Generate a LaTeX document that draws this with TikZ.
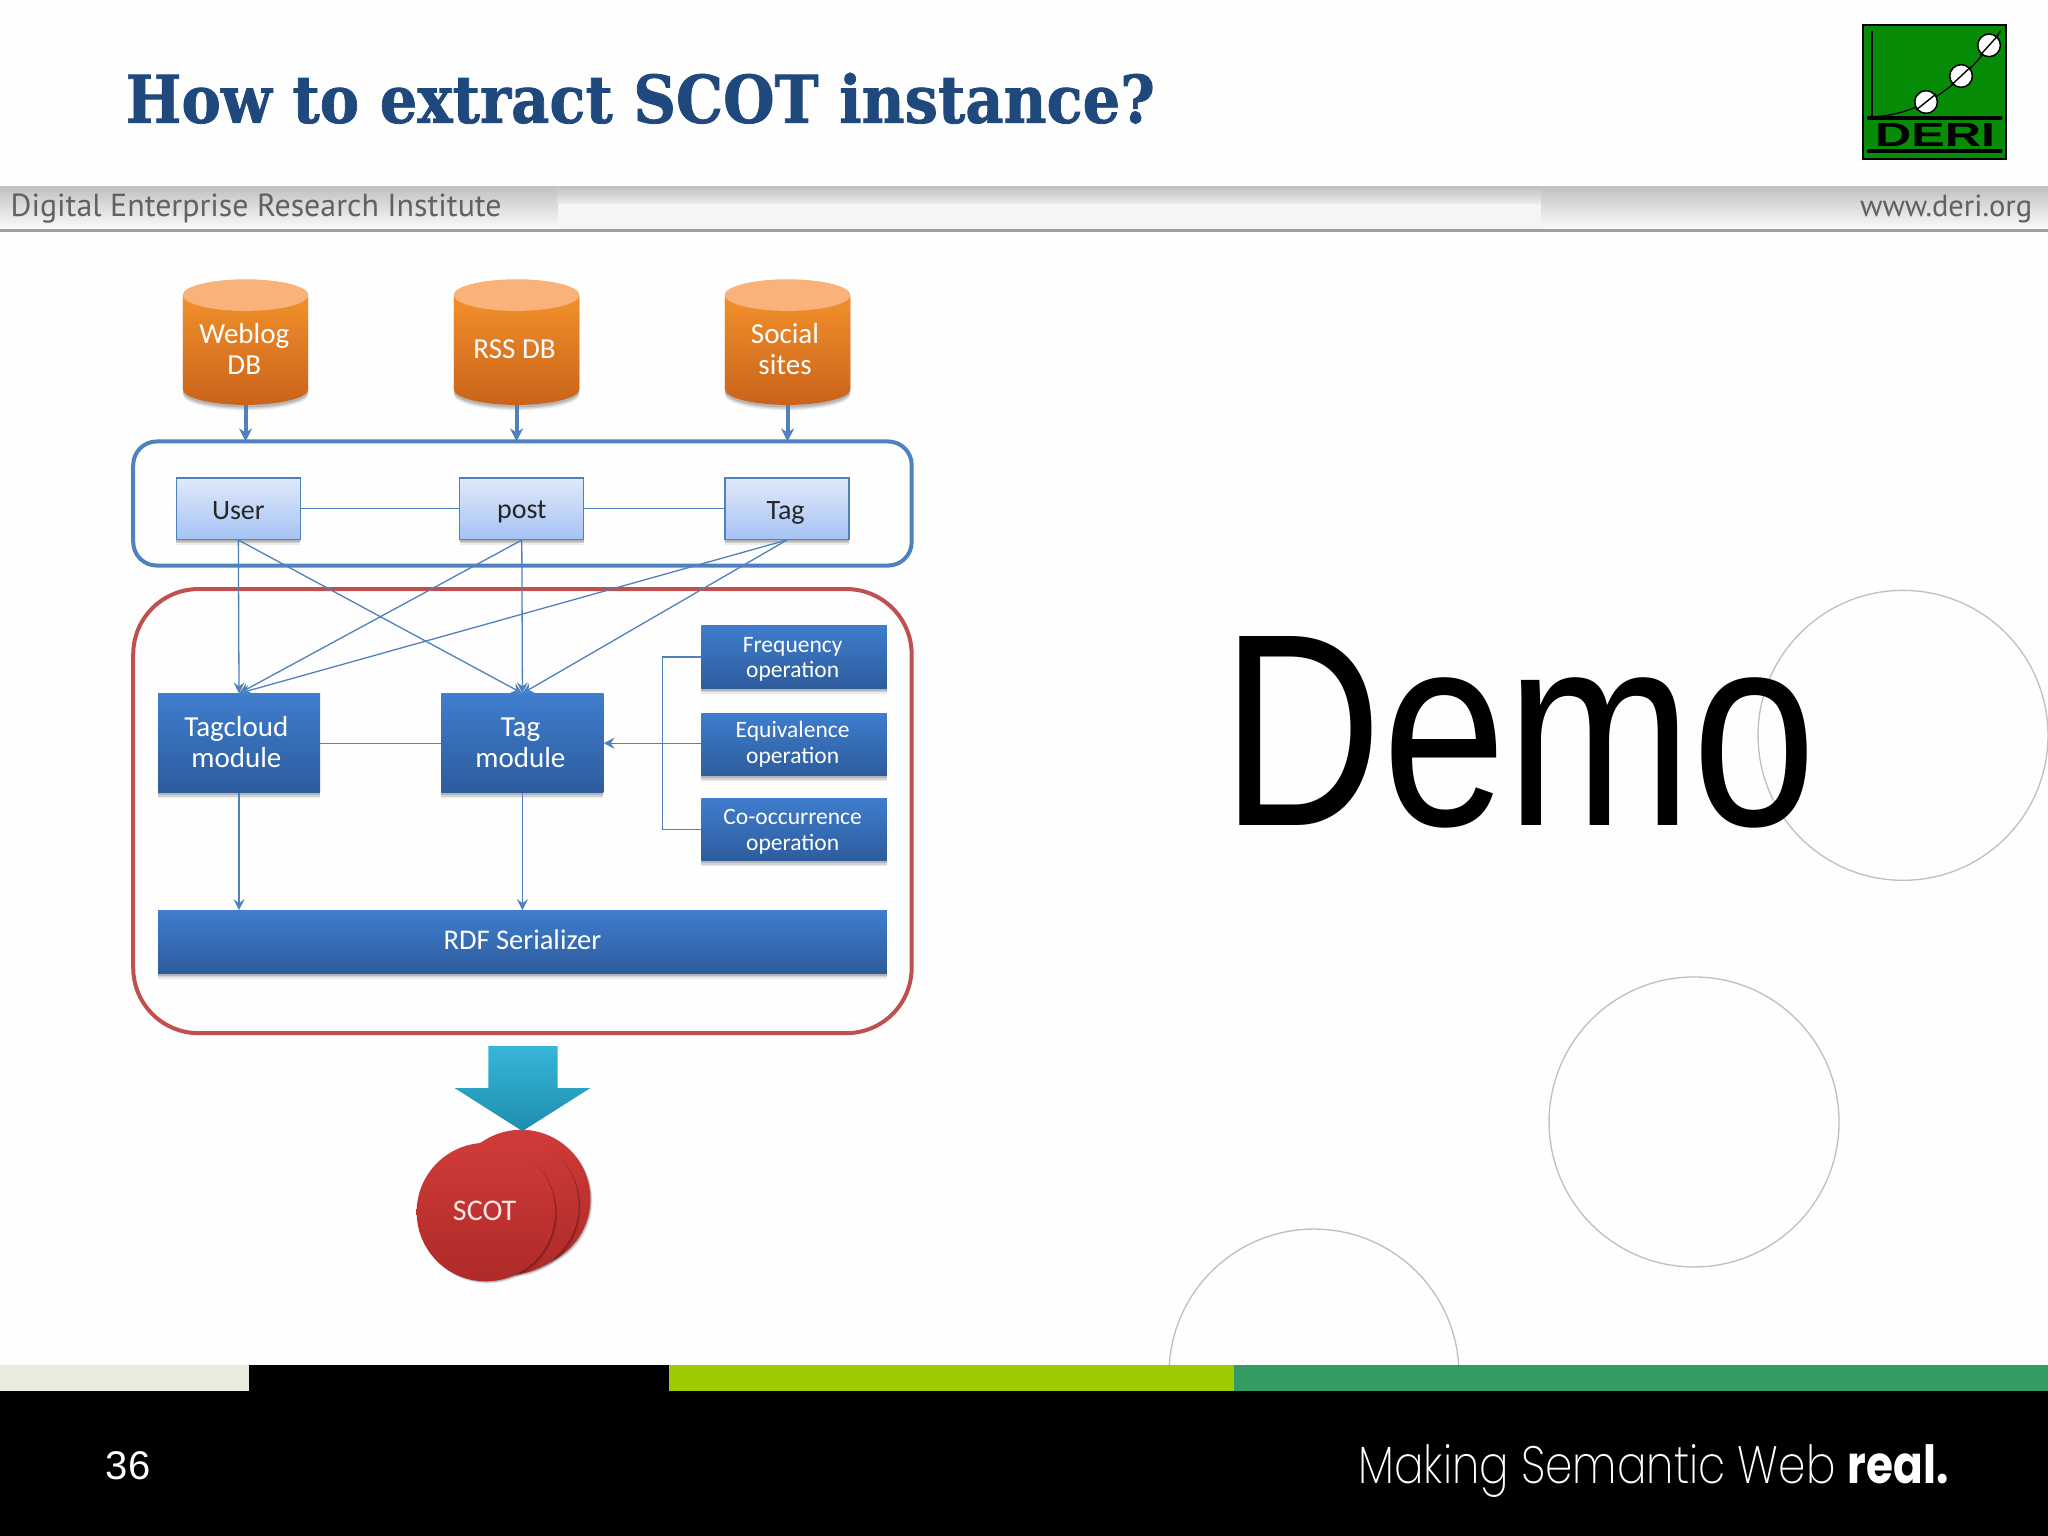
\documentclass[tikz,border=0pt]{standalone}
\usepackage{fontspec}
\usepackage{graphicx}
\usetikzlibrary{arrows.meta,shadows,calc}
\setmainfont{Carlito}
\newfontfamily\arialf{Liberation Sans}
\newfontfamily\titlef{DejaVu Serif}[BoldFont={DejaVu Serif Bold},BoldFeatures={FakeBold=1.2}]
\newfontfamily\headf{PT Sans}
\newfontfamily\tagf{Poppins ExtraLight}
\newfontfamily\tagbf{Poppins}[BoldFont={Poppins Bold}]
\def\uu{1.30612pt}
\newcommand{\fsz}[1]{\fontsize{#1}{1.08\dimexpr#1pt\relax}\selectfont}
% label shifted by dx, dy from the centre of its node, without changing the node's size
\newcommand{\lbl}[3]{\raisebox{#2}[\height][\depth]{\hspace*{#1}\begin{tabular}{@{}c@{}}#3\end{tabular}\hspace*{-#1}}}
\definecolor{linkblue}{HTML}{4F81BD}
\definecolor{framered}{HTML}{C0504D}
\definecolor{titleblue}{HTML}{1F497D}
\definecolor{lighttop}{HTML}{E0E9FA}\definecolor{lightbot}{HTML}{A5C3F4}
\definecolor{darktop}{HTML}{3F7DCE}\definecolor{darkbot}{HTML}{2D5C9C}
\definecolor{redtop}{HTML}{CF3B38}\definecolor{redbot}{HTML}{AE2A28}
\definecolor{orangetop}{HTML}{F8962E}\definecolor{orangebot}{HTML}{C9631A}\definecolor{orangelid}{HTML}{F9B27A}
\tikzset{
  softshadow/.style={
    drop shadow={shadow xshift=0pt,shadow yshift=-5.5pt,opacity=.07,fill=black},
    drop shadow={shadow xshift=0pt,shadow yshift=-4pt,opacity=.1,fill=black},
    drop shadow={shadow xshift=0pt,shadow yshift=-2.5pt,opacity=.14,fill=black}},
  lightbox/.style={rectangle,draw=linkblue,line width=1.2pt,top color=lighttop,bottom color=lightbot,softshadow,
     minimum width=95*\uu,minimum height=47*\uu,inner sep=0pt,text=black!85,font=\fsz{28}},
  darkbox/.style={rectangle,top color=darktop,bottom color=darkbot,softshadow,inner sep=0pt,text=white},
  modbox/.style={darkbox,minimum width=124*\uu,minimum height=76*\uu,font=\fsz{29}},
  opbox/.style={darkbox,minimum width=142*\uu,minimum height=48*\uu,font=\fsz{23.5}},
  dbnode/.style={rectangle,minimum width=96*\uu,minimum height=96*\uu,inner sep=0pt,text=white,font=\fsz{29}},
  link/.style={draw=linkblue,line width=1.3pt},
  flow/.style={link,-{Stealth[length=11pt,width=11pt,inset=4pt]}},
  feed/.style={draw=linkblue,line width=4pt,-{Stealth[length=13pt,width=13pt,inset=4pt]}},
  framebox/.style={fill=none,line width=4pt},
  deco/.style={draw=black!25,line width=1.3pt},
  disc/.style={circle,minimum size=106*\uu,inner sep=0pt,top color=redtop,bottom color=redbot,
     drop shadow={shadow xshift=2pt,shadow yshift=-2pt,opacity=.12,fill=black},
     drop shadow={shadow xshift=1pt,shadow yshift=-1pt,opacity=.2,fill=black}},
}
\newcommand{\dbcyl}[3]{%
  \shade[top color=orangetop,bottom color=orangebot,softshadow]
    (#2-48,226) -- (#2-48,298) .. controls (#2-48,304.6) and (#2-26.5,310) .. (#2,310)
    .. controls (#2+26.5,310) and (#2+48,304.6) .. (#2+48,298) -- (#2+48,226)
    .. controls (#2+48,219.4) and (#2+26.5,214) .. (#2,214)
    .. controls (#2-26.5,214) and (#2-48,219.4) .. (#2-48,226) -- cycle;
  \fill[orangelid] (#2,226) ellipse [x radius=48*\uu,y radius=12*\uu];
  \node[dbnode] (#1) at (#2,262) {#3};
}
\begin{document}
\begin{tikzpicture}[x=\uu,y=-\uu]
\useasboundingbox (0,0) rectangle (1568,1176);
\fill[white!99.5!black] (0,0) rectangle (1568,1176);

% decorative circles
\draw[deco] (1457,563) circle [radius=111*\uu];
\draw[deco] (1297,859) circle [radius=111*\uu];
\draw[deco] (1006,1052) circle [radius=111*\uu];

% header band
\shade[top color=black!24,bottom color=black!2] (0,143) rectangle (427,175);
\shade[top color=black!24,bottom color=black!2] (1180,143) rectangle (1568,175);
\shade[top color=black!24,bottom color=black!8] (427,143) rectangle (1180,156);
\fill[black!4] (427,156) rectangle (1180,175);
\fill[black!38] (0,175.5) rectangle (1568,178);
\node[anchor=base west,inner sep=0pt,text=black!62] (hdleft) at (8,166)
  {\resizebox{491pt}{!}{\headf\fsz{31}Digital Enterprise Research Institute}};
\node[anchor=base east,inner sep=0pt,text=black!62] (hdright) at (1556,166)
  {\resizebox{172pt}{!}{\headf\fsz{31}www.deri.org}};

% title
\node[anchor=base west,inner sep=0pt,text=titleblue] (title) at (96,94)
  {\resizebox{1029pt}{50pt}{\titlef\bfseries How to extract SCOT instance?}};

% logo
\begin{scope}[shift={(1362.86,0)},x=0.33333pt,y=-0.33333pt]
  \definecolor{logogreen}{HTML}{078C07}
  \fill[logogreen] (248,76) rectangle (678,476);
  \draw[black,line width=2pt] (248,76) rectangle (678,476);
  \draw[black,line width=1.3pt] (276,92) -- (276,350);
  \draw[black,line width=4pt,line cap=round] (266,354) -- (662,354);
  \draw[black,line width=4pt,line cap=round] (266,454) -- (662,454);
  \draw[black,line width=1.3pt] (280,350) .. controls (410,345) and (540,270) .. (662,92);
  \node[circle,draw=black,fill=white,line width=1.5pt,minimum size=68*0.33333pt,inner sep=0pt] (ball1) at (438,306) {};
  \node[circle,draw=black,fill=white,line width=1.5pt,minimum size=68*0.33333pt,inner sep=0pt] (ball2) at (543,228) {};
  \node[circle,draw=black,fill=white,line width=1.5pt,minimum size=68*0.33333pt,inner sep=0pt] (ball3) at (627,136) {};
  \draw[black,line width=1.4pt] (408,330) -- (468,282);
  \draw[black,line width=1.4pt] (513,256) -- (573,200);
  \draw[black,line width=1.4pt] (600,166) -- (655,105);
  \node[anchor=center,inner sep=0pt,text=black] (deri) at (465,406)
    {\resizebox{120pt}{23pt}{\arialf\bfseries DERI}};
\end{scope}

% frames
\draw[framebox,draw=framered,rounded corners=50*\uu] (102,451) rectangle (698,791);
\draw[framebox,draw=linkblue,rounded corners=18*\uu] (102,338) rectangle (698,433);

% databases
\dbcyl{weblog}{188}{\lbl{-1.3pt}{-10.4pt}{Weblog\\DB}}
\dbcyl{rssdb}{395.5}{\lbl{-2pt}{-10.4pt}{RSS DB}}
\dbcyl{social}{603}{\lbl{-2.6pt}{-10.4pt}{Social\\sites}}

% entity boxes
\node[lightbox] (user) at (182.5,389.5) {\lbl{0pt}{-5.2pt}{User}};
\node[lightbox] (post) at (399.5,389.5) {\lbl{0pt}{-4pt}{post}};
\node[lightbox] (tag) at (602.5,389.5) {\lbl{-1.3pt}{-5.2pt}{Tag}};

% modules
\node[modbox] (tagcloud) at (183,569) {\lbl{-2.6pt}{-2.6pt}{Tagcloud\\module}};
\node[modbox] (tagmod) at (400,569) {\lbl{-2pt}{-2.6pt}{Tag\\module}};
\node[opbox] (freq) at (608,503) {\lbl{-1.5pt}{-3pt}{Frequency\\operation}};
\node[opbox] (equiv) at (608,570) {\lbl{-1.5pt}{-1pt}{Equivalence\\operation}};
\node[opbox] (cooc) at (608,635) {\lbl{-1.5pt}{-3pt}{Co-occurrence\\operation}};
\node[darkbox,minimum width=558*\uu,minimum height=48*\uu,font=\fsz{28.5}] (rdf) at (400,721) {\lbl{0pt}{-1.3pt}{RDF Serializer}};

% connectors
\draw[feed] (weblog.south) -- (weblog.south |- 0,338);
\draw[feed] (rssdb.south) -- (rssdb.south |- 0,338);
\draw[feed] (social.south) -- (social.south |- 0,338);
\draw[link] (user) -- (post);
\draw[link] (post) -- (tag);
\draw[flow] (user.south) -- (tagcloud.north);
\draw[flow] (user.south) -- (tagmod.north);
\draw[flow] (post.south) -- (tagcloud.north);
\draw[flow] (post.south) -- (tagmod.north);
\draw[flow] (tag.south) -- (tagcloud.north);
\draw[flow] (tag.south) -- (tagmod.north);
\draw[link] (tagcloud.east) -- (tagmod.west);
\draw[flow] (equiv.west |- tagmod.east) -- (tagmod.east);
\draw[link] (freq.west) -| (507,635) -- (cooc.west);
\draw[flow] (tagcloud.south) -- (tagcloud.south |- rdf.north);
\draw[flow] (tagmod.south) -- (tagmod.south |- rdf.north);

% discs
\node[disc] (disc3) at (399,918) {};
\node[disc] (disc2) at (390,923) {};
\node[disc] (disc1) at (372,928) {};
\node[text=white!90!red,font=\fsz{30},inner sep=0pt] (scot) at (371,927) {SCOT};

% big arrow
\definecolor{arrowtop}{HTML}{36B6DA}\definecolor{arrowbot}{HTML}{1F8DAD}
\shade[top color=arrowtop,bottom color=arrowbot] (374,801) -- (427,801) -- (427,833) -- (452,833) -- (400,866) -- (348,833) -- (374,833) -- cycle;

% demo
\node[anchor=base west,inner sep=0pt,text=black] (demo) at (935,632)
  {\resizebox{595pt}{189pt}{\arialf\fsz{200}Demo}};

% footer
\definecolor{barcream}{HTML}{EAEADF}\definecolor{barlime}{HTML}{9BCB00}\definecolor{bargreen}{HTML}{339B63}
\fill[barcream] (0,1045) rectangle (191,1065);
\fill[black] (191,1045) rectangle (512,1065);
\fill[barlime] (512,1045) rectangle (945,1065);
\fill[bargreen] (945,1045) rectangle (1568,1065);
\fill[black] (0,1065) rectangle (1568,1176);
\node[anchor=base west,inner sep=0pt,text=white] (pageno) at (81,1133) {\arialf\fsz{40}36};
\node[anchor=base east,inner sep=0pt,text=white] (slogan) at (1492,1136)
  {\scalebox{1}[1.2]{\resizebox{590pt}{!}{\fsz{46}{\tagf Making Semantic Web }{\tagbf\bfseries real.}}}};
\end{tikzpicture}
\end{document}
